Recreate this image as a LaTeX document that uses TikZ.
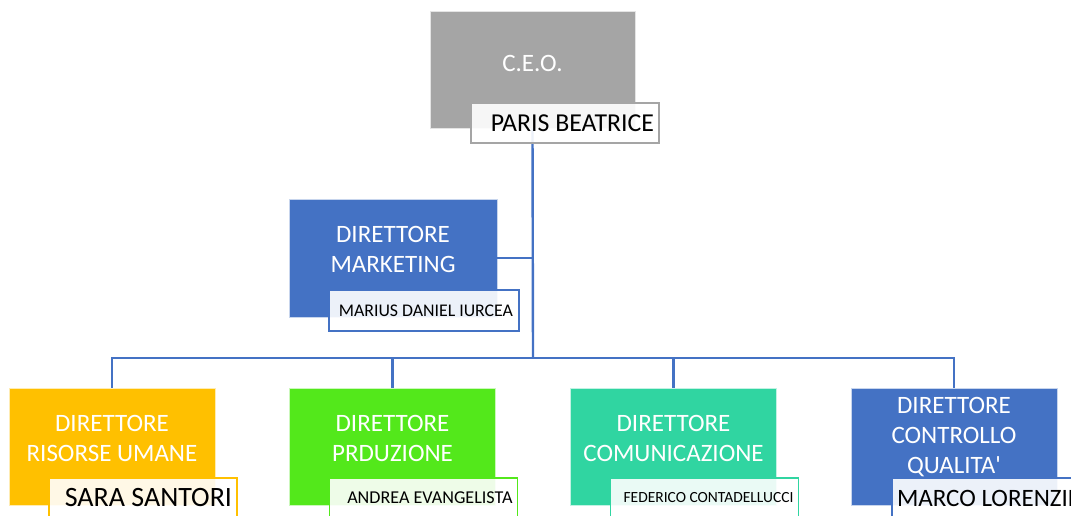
\documentclass[tikz,border=0pt]{standalone}
\usepackage{fontspec}
\setmainfont{Carlito}
\usetikzlibrary{calc}
\definecolor{ceogray}{HTML}{A5A5A5}
\definecolor{mktblue}{HTML}{4472C4}
\definecolor{hrorange}{HTML}{FFC000}
\definecolor{prodgreen}{HTML}{53E81B}
\definecolor{comteal}{HTML}{30D5A1}
\definecolor{linkblue}{HTML}{4472C4}

\begin{document}
\begin{tikzpicture}[x=1pt, y=1pt,
    role/.style={draw=white!70!#1, fill=#1, line width=0.8pt, minimum width=206, minimum height=117, inner sep=0pt},
    title/.style={text=white, align=center, font=\fontsize{25}{30}\selectfont},
    person/.style={draw=#1, line width=1.6pt, fill=white, fill opacity=0.9, text opacity=1, minimum width=188, minimum height=40, text width=178, align=flush right, inner xsep=5pt, inner ysep=0pt},
    link/.style={draw=linkblue, line width=2.4pt}]

  \useasboundingbox (0,0) rectangle (1071,516);

  % Role boxes
  \node[role=ceogray, minimum width=205] (ceo) at (532.5,446.5) {};
  \node[role=mktblue, minimum width=208, minimum height=118] (mkt) at (393,258) {};
  \node[role=hrorange] (hr) at (112,69.5) {};
  \node[role=prodgreen] (prod) at (392.5,69.5) {};
  \node[role=comteal] (com) at (673.5,69.5) {};
  \node[role=mktblue] (qc) at (954,69.5) {};

  % Connectors
  \coordinate (bus) at (533,158);
  \draw[link] (ceo.south) -- (bus);
  \draw[link] (mkt.east) -- (mkt.east -| bus);
  \draw[link] (hr.north) |- (bus) -| (qc.north);
  \draw[link] (bus -| prod.north) -- (prod.north);
  \draw[link] (bus -| com.north) -- (com.north);

  % Titles
  \node[title] (ceot) at ($(ceo)+(0,6)$) {C.E.O.};
  \node[title] (mktt) at ($(mkt)+(0,8.5)$) {DIRETTORE\\MARKETING};
  \node[title] (hrt) at ($(hr)+(0,8.5)$) {DIRETTORE\\RISORSE UMANE};
  \node[title] (prodt) at ($(prod)+(0,8.5)$) {DIRETTORE\\PRDUZIONE};
  \node[title] (comt) at ($(com)+(0,8.5)$) {DIRETTORE\\COMUNICAZIONE};
  \node[title] (qct) at ($(qc)+(0,9.5)$) {DIRETTORE\\CONTROLLO\\QUALITA\textquotesingle};

  % Names
  \node[person=ceogray, font=\fontsize{25.8}{28}\selectfont] (ceon) at (565,393) {PARIS BEATRICE};
  \node[person=mktblue, minimum width=190, minimum height=41, font=\fontsize{17.8}{20}\selectfont] (mktn) at (424,205.5) {MARIUS DANIEL IURCEA};
  \node[person=hrorange, font=\fontsize{28}{30}\selectfont] (hrn) at (143,18) {SARA SANTORI};
  \node[person=prodgreen, font=\fontsize{18.1}{20}\selectfont] (prodn) at (423.5,18) {ANDREA EVANGELISTA};
  \node[person=comteal, font=\fontsize{15.5}{18}\selectfont] (comn) at (704.5,18) {FEDERICO CONTADELLUCCI};
  \node[person=mktblue, align=flush left, font=\fontsize{25}{28}\selectfont] (qcn) at (986,18) {\mbox{MARCO LORENZINI}};
\end{tikzpicture}
\end{document}
